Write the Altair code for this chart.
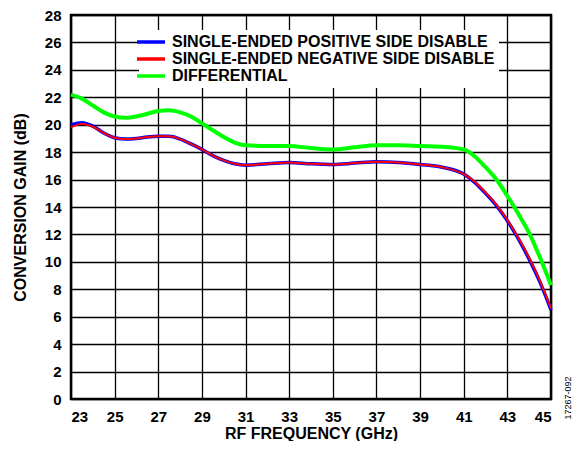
import altair as alt
import pandas as pd

freq_pos = [23, 23.5, 24, 24.5, 25, 25.5, 26, 26.5, 27, 27.5, 28, 28.5, 29, 29.5, 30, 30.5, 31, 32, 33, 34, 35, 36, 37, 38, 39, 40, 41, 41.5, 42, 42.5, 43, 43.5, 44, 44.5, 45]
gain_pos = [20.0, 20.15, 19.9, 19.4, 19.05, 18.95, 19.0, 19.1, 19.15, 19.15, 18.95, 18.6, 18.2, 17.75, 17.4, 17.15, 17.05, 17.15, 17.25, 17.15, 17.1, 17.2, 17.3, 17.25, 17.1, 16.9, 16.4, 15.8, 15.0, 14.1, 13.0, 11.7, 10.2, 8.5, 6.5]

freq_neg = [23, 23.5, 24, 24.5, 25, 25.5, 26, 26.5, 27, 27.5, 28, 28.5, 29, 29.5, 30, 30.5, 31, 32, 33, 34, 35, 36, 37, 38, 39, 40, 41, 41.5, 42, 42.5, 43, 43.5, 44, 44.5, 45]
gain_neg = [19.8, 20.05, 19.85, 19.4, 19.05, 18.95, 19.0, 19.1, 19.15, 19.15, 18.95, 18.6, 18.2, 17.75, 17.4, 17.15, 17.05, 17.15, 17.25, 17.15, 17.1, 17.2, 17.3, 17.25, 17.1, 16.9, 16.4, 15.85, 15.05, 14.15, 13.05, 11.75, 10.3, 8.6, 6.6]

freq_diff = [23, 23.5, 24, 24.5, 25, 25.5, 26, 26.5, 27, 27.5, 28, 28.5, 29, 29.5, 30, 30.5, 31, 32, 33, 34, 35, 36, 37, 38, 39, 40, 41, 41.5, 42, 42.5, 43, 43.5, 44, 44.5, 45]
gain_diff = [22.2, 21.9, 21.4, 20.9, 20.6, 20.5, 20.6, 20.8, 21.0, 21.05, 20.9, 20.6, 20.1, 19.6, 19.1, 18.7, 18.5, 18.45, 18.45, 18.3, 18.2, 18.35, 18.5, 18.5, 18.45, 18.4, 18.2, 17.7, 16.9, 16.0, 14.8, 13.5, 12.1, 10.3, 8.3]

series_names = ["SINGLE-ENDED POSITIVE SIDE DISABLE", "SINGLE-ENDED NEGATIVE SIDE DISABLE", "DIFFERENTIAL"]
series_colors = ["#0000FF", "#FF0000", "#00FF00"]
series_widths = [3.5, 2, 4]

x_ticks = [23, 25, 27, 29, 31, 33, 35, 37, 39, 41, 43, 45]
y_ticks = list(range(0, 29, 2))

FONT = "Liberation Sans"

color_enc = alt.Color(
    "series:N", sort=series_names,
    scale=alt.Scale(domain=series_names, range=series_colors),
    legend=alt.Legend(title=None, orient="none", legendX=68, legendY=15,
                      fillColor="white", padding=4, symbolType="M-2.8,0L2.8,0",
                      symbolSize=100, symbolStrokeWidth=3.5,
                      labelFont=FONT, labelFontWeight="bold", labelFontSize=16,
                      labelColor="black", rowPadding=1, labelOffset=13,
                      labelLimit=400),
)

layers = []
for name, fs, gs, w in zip(series_names, [freq_pos, freq_neg, freq_diff],
                           [gain_pos, gain_neg, gain_diff], series_widths):
    d = pd.DataFrame({"freq": fs, "gain": gs, "series": name})
    layers.append(
        alt.Chart(d).mark_line(interpolate="monotone", strokeWidth=w).encode(
            x=alt.X("freq:Q", scale=alt.Scale(domain=[23, 45], nice=False),
                    axis=alt.Axis(title="RF FREQUENCY (GHz)", values=x_ticks, format="d")),
            y=alt.Y("gain:Q", scale=alt.Scale(domain=[0, 28], nice=False),
                    axis=alt.Axis(title="CONVERSION GAIN (dB)", values=y_ticks, format="d")),
            color=color_enc,
        )
    )

note = alt.Chart(pd.DataFrame({"t": ["17267-092"]})).mark_text(
    angle=270, font=FONT, fontSize=9, color="black", baseline="middle", align="center"
).encode(text="t:N", x=alt.value(497), y=alt.value(383))

chart = alt.layer(*layers, note).properties(
    width=480, height=384,
    autosize=alt.AutoSizeParams(type="none"),
    padding={"left": 63, "top": 7, "right": 22, "bottom": 42},
).configure_view(stroke="black", strokeWidth=2.5).configure_axis(
    grid=True, gridColor="black", gridWidth=1.3, gridOpacity=1,
    domain=False, ticks=False,
    labelFont=FONT, labelFontWeight="bold", labelFontSize=15, labelColor="black",
    titleFont=FONT, titleFontWeight="bold", titleFontSize=16, titleColor="black",
).configure_axisX(labelPadding=10, titlePadding=1).configure_axisY(labelPadding=10, titlePadding=16)

chart.save("out.html", embed_options={"renderer": "svg", "actions": False})
